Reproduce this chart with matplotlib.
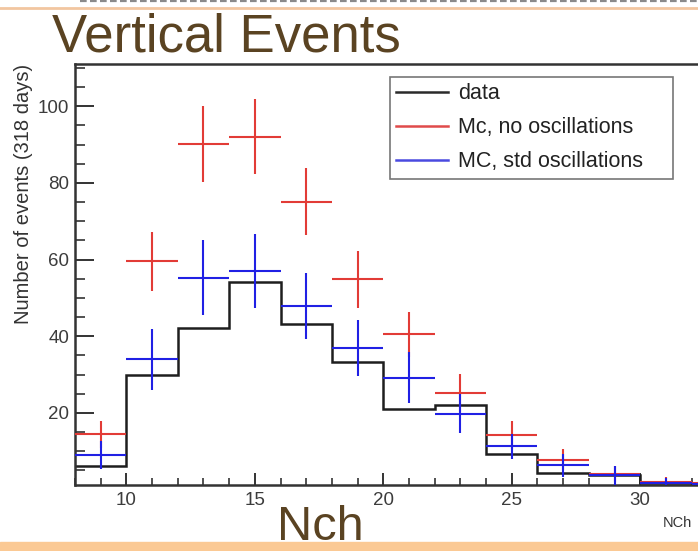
import numpy as np
import matplotlib
matplotlib.use("Agg")
import matplotlib.pyplot as plt
from matplotlib.lines import Line2D
from matplotlib.patches import Rectangle
from matplotlib.ticker import MultipleLocator, FixedLocator

plt.rcParams['font.family'] = ['Liberation Sans', 'DejaVu Sans']

# Histogram binning (width 2 in NCh)
bin_edges = np.arange(8, 36, 2)
bin_centers = bin_edges[:-1] + 1

# Observed vertical events (318 days)
data_counts = [6.1, 30.0, 42.2, 54.1, 43.3, 33.3, 21.1, 22.1, 9.4, 4.4, 3.9, 1.7, 1.5]

# Monte Carlo without oscillations
mc_noosc = [14.4, 59.5, 90.1, 92.0, 75.1, 54.8, 40.5, 25.2, 14.2, 7.8, 4.1, 1.9, 1.6]
mc_noosc_err = [3.6, 7.7, 10.0, 9.8, 8.7, 7.5, 5.8, 5.0, 3.7, 2.7, 2.0, 1.4, 1.2]

# Monte Carlo with standard oscillations
mc_osc = [9.0, 34.0, 55.3, 57.0, 48.0, 37.0, 29.2, 19.8, 11.3, 6.3, 3.7, 1.7, 1.4]
mc_osc_err = [3.7, 7.9, 9.7, 9.7, 8.6, 7.3, 6.6, 5.1, 3.3, 3.0, 2.4, 1.3, 1.1]

legend_labels = ["data", "Mc, no oscillations", "MC, std oscillations"]

W, H = 698, 551
fig = plt.figure(figsize=(W / 100, H / 100), dpi=100)

def fx(px):
    return px / W

def fy(py):
    return 1 - py / H

# Slide decorations
fig.add_artist(Line2D([fx(80), fx(698)], [fy(1.0), fy(1.0)], color="#8a8a8a",
                      lw=1.6, ls=(0, (3, 1.5))))
fig.add_artist(Line2D([0, 1], [fy(7.5), fy(7.5)], color="#f2c6a0", lw=2.0))
fig.add_artist(Rectangle((0, 0), 1, fy(542), color="#fbc994", zorder=0))

fig.text(fx(52), fy(51), "Vertical Events", fontsize=38, color="#5a4322",
         ha="left", va="baseline")
fig.text(fx(277), fy(550.5), "Nch", fontsize=35, color="#5a4322",
         ha="left", va="bottom", zorder=5)

# Plot area
ax = fig.add_axes([fx(75), fy(485), fx(743) - fx(75), fy(64) - fy(485)])
ax.set_xlim(8, 34)
ax.set_ylim(1.2, 111)

ax.stairs(data_counts, bin_edges, baseline=None, color="#1e1e1e", lw=1.8, zorder=2)
ax.errorbar(bin_centers, mc_noosc, xerr=1, yerr=mc_noosc_err, fmt="none",
            ecolor="#e23b36", elinewidth=1.5, capsize=0, zorder=3)
ax.errorbar(bin_centers, mc_osc, xerr=1, yerr=mc_osc_err, fmt="none",
            ecolor="#2020e4", elinewidth=1.5, capsize=0, zorder=4)

for s in ax.spines.values():
    s.set_linewidth(1.8)
    s.set_color("#333333")

ax.xaxis.set_major_locator(FixedLocator([10, 15, 20, 25, 30]))
ax.xaxis.set_minor_locator(MultipleLocator(1))
ax.yaxis.set_major_locator(FixedLocator([20, 40, 60, 80, 100]))
ax.yaxis.set_minor_locator(MultipleLocator(5))

ax.tick_params(axis="x", which="major", direction="in", length=9, width=1.4,
               color="#333333", labelsize=13.5, labelcolor="#3c3c3c", pad=5)
ax.tick_params(axis="x", which="minor", direction="in", length=5, width=1.2,
               color="#333333")
ax.tick_params(axis="y", which="major", direction="in", length=13.5, width=1.4,
               color="#333333", labelsize=13.5, labelcolor="#3c3c3c", pad=4)
ax.tick_params(axis="y", which="minor", direction="in", length=7, width=1.2,
               color="#333333")

fig.text(fx(24), fy(64), "Number of events (318 days)", rotation=90,
         fontsize=14.5, color="#333333", ha="center", va="top")
fig.text(fx(663), fy(523), "NCh", fontsize=10.5, color="#333333",
         ha="left", va="center")

handles = [Line2D([], [], color="#2a2a2a", lw=1.8),
           Line2D([], [], color="#e04a4a", lw=1.8),
           Line2D([], [], color="#4a4ae0", lw=1.8)]
leg = ax.legend(handles, legend_labels, loc="upper left",
                bbox_to_anchor=(fx(390), fy(77), fx(673) - fx(390), 0),
                bbox_transform=fig.transFigure, mode="expand",
                fontsize=15.5, frameon=True, fancybox=False, framealpha=1,
                edgecolor="#777777", borderpad=0.3, labelspacing=0.6,
                handlelength=2.4, handletextpad=0.47, borderaxespad=0)
leg.get_frame().set_linewidth(1.2)
for t in leg.get_texts():
    t.set_color("#222222")

fig.savefig("out.png", dpi=100)
